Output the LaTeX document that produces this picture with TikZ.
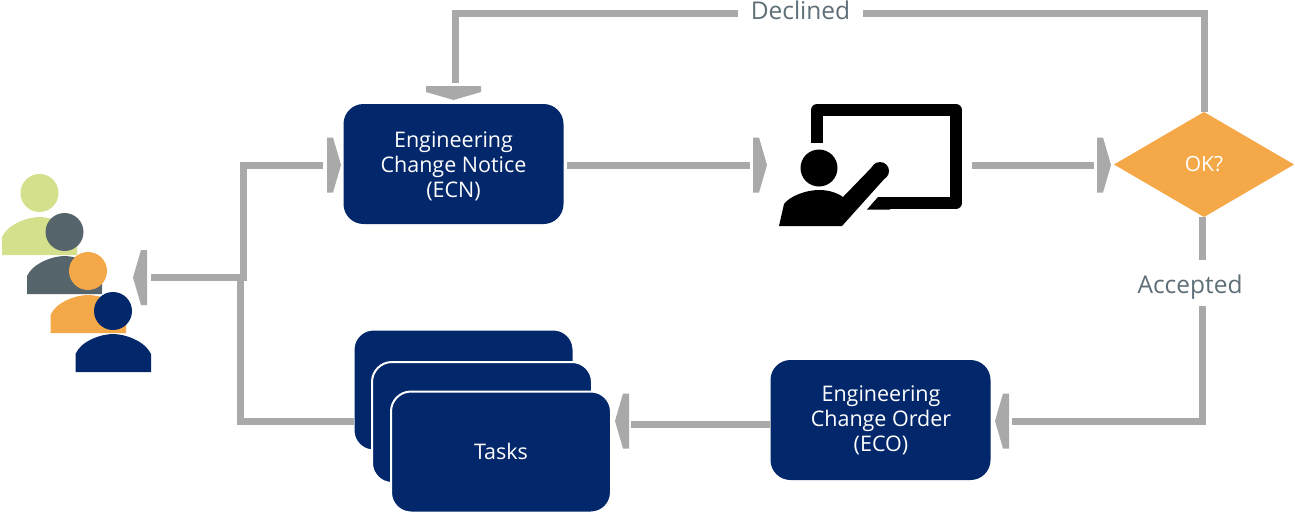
\documentclass[tikz,border=0pt]{standalone}
\usepackage{fontspec}
\setmainfont{Open Sans}
\usetikzlibrary{shapes.geometric}
\definecolor{navy}{HTML}{03276B}
\definecolor{link}{HTML}{A9A9A9}
\definecolor{amber}{HTML}{F5A847}
\definecolor{lime}{HTML}{D5E08C}
\definecolor{slate}{HTML}{56646C}
\definecolor{lbl}{HTML}{5F6F78}
\tikzset{
  x=1pt,y=-1pt,
  bluebox/.style={rectangle,rounded corners=20pt,fill=navy,text=white,minimum width=220pt,minimum height=121pt,inner sep=0pt,outer sep=0pt,align=center,font=\fontsize{21.5}{25}\selectfont},
  stacked/.style={bluebox,draw=white,line width=2pt},
  boxtext/.style={text=white,align=center,inner sep=0pt,font=\fontsize{21.5}{25}\selectfont},
  decision/.style={diamond,fill=amber,text=white,minimum width=180pt,minimum height=105pt,shape aspect=1.71,inner sep=0pt,outer sep=0pt,font=\fontsize{21}{25}\selectfont},
  linklabel/.style={fill=white,text=lbl,inner sep=0pt,font=\fontsize{24.5}{25}\selectfont},
  conn/.style={draw=link,line width=7pt,line cap=butt,line join=miter},
  headE/.pic={\fill[link] (-14,-27.5) -- (-8,-27.5) -- (0,0) -- (-8,27.5) -- (-14,27.5) -- cycle;},
  headW/.pic={\fill[link] (14,-27.5) -- (8,-27.5) -- (0,0) -- (8,27.5) -- (14,27.5) -- cycle;},
  headS/.pic={\fill[link] (-27.5,-14) -- (27.5,-14) -- (27.5,-8) -- (0,0) -- (-27.5,-8) -- cycle;},
}
\begin{document}
\begin{tikzpicture}
\useasboundingbox (0,0) rectangle (1295,515);
\fill[white] (0,0) rectangle (1295,515);

% people
\fill[lime] (39.5,193) circle (19);
\fill[lime] (2,255) -- (2,237) .. controls (8,224) and (28,217) .. (39.5,217) .. controls (51,217) and (71,224) .. (77,237) -- (77,255) -- cycle;
\fill[slate] (64.5,232) circle (19);
\fill[slate] (27,294) -- (27,276) .. controls (33,263) and (53,256) .. (64.5,256) .. controls (76,256) and (96,263) .. (102,276) -- (102,294) -- cycle;
\fill[amber] (88,271) circle (19);
\fill[amber] (50.5,333) -- (50.5,315) .. controls (56,302) and (76,295) .. (88,295) .. controls (100,295) and (120,302) .. (126,315) -- (126,333) -- cycle;
\fill[navy] (113,311) circle (19);
\fill[navy] (75.5,372) -- (75.5,354) .. controls (81,341) and (101,334) .. (113,334) .. controls (125,334) and (145,341) .. (151,354) -- (151,372) -- cycle;

% presenter icon
\draw[line width=12pt,line join=round] (817,143) -- (817,110) -- (956,110) -- (956,203) -- (872,203);
\fill[white] (855,209.5) -- (867,209.5) -- (885,190) -- (870,190) -- cycle;
\fill (867,209.5) -- (878,197) -- (890,197) -- (890,209.5) -- cycle;
\fill (819,168) circle (18.5);
\fill (779,226) -- (784,204) .. controls (790,196) and (806,190) .. (819,190) .. controls (827,190) and (836,192) .. (843,197) -- (874,165) -- (886,177) -- (842,226) -- cycle;
\fill (880,171) circle (9);

% boxes
\node[bluebox,minimum height=120pt] (ecn) at (453.5,164) {};
\node[boxtext] (ecnt) at (453.5,166.5) {Engineering\\Change Notice\\(ECN)};
\node[bluebox,minimum height=120pt] (eco) at (880.5,420) {};
\node[boxtext] (ecot) at (881,420) {Engineering\\Change Order\\(ECO)};
\node[decision] (ok) at (1204,164.5) {\raisebox{-1.5pt}{OK?}};
\node[stacked] (t1) at (463.5,390) {};
\node[stacked] (t2) at (482,422.5) {};
\node[stacked] (t3) at (501,452) {\raisebox{1pt}{Tasks}};

% anchors
\coordinate (people) at (133,277.5);
\coordinate (hEcnL) at (341,165);
\coordinate (hEcnT) at (453.5,100);
\coordinate (hIcn) at (767,165);
\coordinate (hOk) at (1111,165);
\coordinate (hEco) at (995,421);
\coordinate (hTask) at (615,421);
\coordinate (icnL) at (972,165);
\coordinate (accTop) at (1202,260);
\coordinate (accBot) at (1202,306);

% arrow heads
\pic at (people) {headW};
\pic at (hEcnL) {headE};
\pic at (hEcnT) {headS};
\pic at (hIcn) {headE};
\pic at (hOk) {headE};
\pic at (hEco) {headW};
\pic at (hTask) {headW};

% connectors
\draw[conn] (151,277.5) -- (246.5,277.5);
\draw[conn] (323,165.5) -- (243,165.5) -- (243,281);
\draw[conn] (t1.west |- 0,421) -- (240.5,421) -- (240.5,277.5);
\draw[conn] (567,165) -- (750,165);
\draw[conn] (icnL) -- (1094,165);
\draw[conn] (ok.north) -- (1204,13.5) -- (455.5,13.5) -- (455.5,83);
\draw[conn] (accTop) -- (accTop |- ok.south);
\draw[conn] (accBot) -- (1202,421) -- (1012,421);
\draw[conn] (eco.west |- 0,424) -- (631,424);

% labels
\node[linklabel,minimum width=125pt,minimum height=24pt] (declined) at (800.5,10) {Declined};
\node[text=lbl,inner sep=0pt,font=\fontsize{24.5}{25}\selectfont] (accepted) at (1190,287) {Accepted};
\end{tikzpicture}
\end{document}
